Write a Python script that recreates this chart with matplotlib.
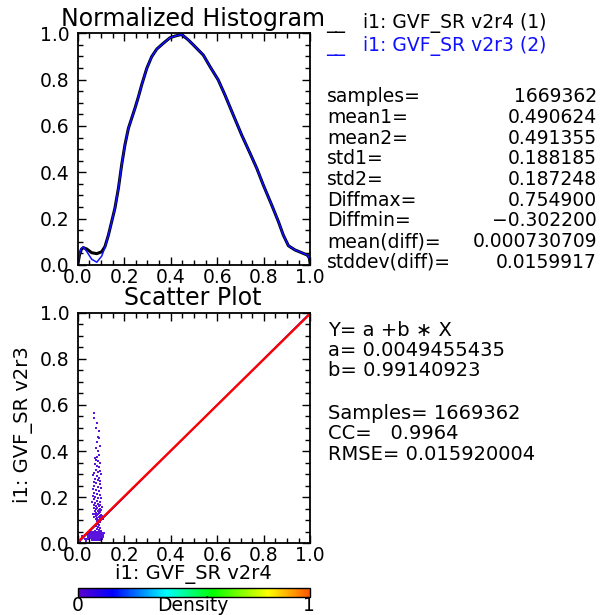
import matplotlib
matplotlib.use("Agg")
import matplotlib.pyplot as plt
from matplotlib.colors import LinearSegmentedColormap
from matplotlib.cm import ScalarMappable
from matplotlib.ticker import MultipleLocator, FormatStrFormatter

W, H = 604, 615

# Normalized histogram curves (v2r4 black, v2r3 blue)
hist_x = [0.0, 0.008, 0.016, 0.024, 0.039, 0.060, 0.082, 0.103, 0.117, 0.132, 0.146,
          0.160, 0.175, 0.189, 0.203, 0.218, 0.232, 0.246, 0.261, 0.275, 0.297,
          0.318, 0.340, 0.368, 0.397, 0.418, 0.447, 0.476, 0.501, 0.540, 0.569,
          0.604, 0.633, 0.669, 0.705, 0.741, 0.770, 0.798, 0.834, 0.863, 0.884,
          0.906, 0.934, 0.970, 0.987, 0.996, 1.0]
hist1 = [0.0, 0.045, 0.068, 0.075, 0.069, 0.053, 0.049, 0.057, 0.079, 0.129, 0.187,
         0.245, 0.331, 0.432, 0.518, 0.590, 0.633, 0.676, 0.726, 0.777, 0.849,
         0.899, 0.932, 0.957, 0.981, 0.988, 0.995, 0.971, 0.946, 0.906, 0.856,
         0.799, 0.734, 0.647, 0.561, 0.482, 0.417, 0.345, 0.259, 0.187, 0.129,
         0.083, 0.065, 0.050, 0.043, 0.030, 0.0]
hist2 = [0.0, 0.050, 0.072, 0.078, 0.058, 0.025, 0.012, 0.038, 0.075, 0.129, 0.187,
         0.245, 0.331, 0.432, 0.518, 0.590, 0.633, 0.676, 0.726, 0.777, 0.849,
         0.899, 0.932, 0.957, 0.981, 0.988, 0.995, 0.971, 0.946, 0.906, 0.856,
         0.799, 0.734, 0.647, 0.561, 0.482, 0.417, 0.345, 0.259, 0.187, 0.129,
         0.083, 0.065, 0.050, 0.043, 0.030, 0.0]

legend_labels = ["i1: GVF_SR v2r4 (1)", "i1: GVF_SR v2r3 (2)"]
stat_names = ["samples=", "mean1=", "mean2=", "std1=", "std2=", "Diffmax=",
              "Diffmin=", "mean(diff)=", "stddev(diff)="]
stat_values = ["1669362", "0.490624", "0.491355", "0.188185", "0.187248",
               "0.754900", "\u22120.302200", "0.000730709", "0.0159917"]

# Regression summary
fit_a = 0.0049455435
fit_b = 0.99140923
n_samples = 1669362
cc = 0.9964
rmse = 0.015920004

# Scatter samples (v2r4 on x, v2r3 on y)
sc_x = [0.070, 0.072, 0.085, 0.080, 0.090, 0.088, 0.092, 0.083, 0.095, 0.078, 0.087,
        0.091, 0.084, 0.075, 0.080, 0.088, 0.096, 0.073, 0.083, 0.090, 0.078, 0.094,
        0.086, 0.070, 0.099,
        0.065, 0.082, 0.092, 0.075, 0.088, 0.098, 0.068, 0.080, 0.094, 0.072, 0.086,
        0.100, 0.064, 0.078, 0.090, 0.070, 0.084, 0.096, 0.066, 0.076, 0.088, 0.100,
        0.070, 0.082, 0.094, 0.062, 0.074, 0.086, 0.098, 0.068, 0.080, 0.092, 0.104,
        0.072, 0.084, 0.096, 0.078, 0.090, 0.102, 0.074, 0.086, 0.098, 0.080, 0.092,
        0.076, 0.088, 0.100, 0.082, 0.094, 0.078, 0.090, 0.102, 0.084, 0.096, 0.080,
        0.092, 0.086, 0.098, 0.082, 0.094, 0.088, 0.070, 0.106, 0.066, 0.108,
        0.084, 0.092, 0.078, 0.088, 0.096, 0.082, 0.090, 0.074, 0.100,
        0.042, 0.050, 0.057, 0.065, 0.073, 0.081, 0.089, 0.097, 0.105,
        0.045, 0.053, 0.061, 0.069, 0.077, 0.085, 0.093, 0.101, 0.109,
        0.043, 0.051, 0.059, 0.067, 0.075, 0.083, 0.091, 0.099, 0.107,
        0.047, 0.055, 0.063, 0.071, 0.079, 0.087, 0.095, 0.103, 0.111,
        0.049, 0.058, 0.066, 0.074, 0.082, 0.090, 0.098, 0.106,
        0.046, 0.054, 0.062, 0.070, 0.078, 0.086, 0.094, 0.102,
        0.048, 0.056, 0.064, 0.072, 0.080, 0.088, 0.096, 0.104,
        0.044, 0.052, 0.060, 0.068, 0.076, 0.084, 0.092, 0.100, 0.108,
        0.060, 0.068, 0.076, 0.084, 0.092, 0.100,
        0.005, 0.012, 0.020, 0.030, 0.035]
sc_y = [0.565, 0.545, 0.520, 0.500, 0.485, 0.460, 0.455, 0.440, 0.420, 0.415, 0.400,
        0.385, 0.375, 0.370, 0.360, 0.355, 0.350, 0.345, 0.335, 0.330, 0.320, 0.315,
        0.310, 0.305, 0.300,
        0.295, 0.290, 0.285, 0.280, 0.275, 0.270, 0.265, 0.260, 0.255, 0.250, 0.245,
        0.240, 0.235, 0.230, 0.225, 0.220, 0.215, 0.210, 0.205, 0.200, 0.198, 0.195,
        0.190, 0.185, 0.180, 0.178, 0.175, 0.170, 0.168, 0.165, 0.162, 0.160, 0.158,
        0.155, 0.152, 0.150, 0.147, 0.145, 0.143, 0.140, 0.138, 0.136, 0.133, 0.131,
        0.128, 0.126, 0.124, 0.122, 0.120, 0.117, 0.115, 0.113, 0.110, 0.108, 0.105,
        0.103, 0.100, 0.098, 0.095, 0.093, 0.090, 0.112, 0.118, 0.125, 0.105,
        0.085, 0.080, 0.075, 0.070, 0.066, 0.062, 0.058, 0.055, 0.054,
        0.020, 0.018, 0.021, 0.019, 0.017, 0.020, 0.018, 0.022, 0.019,
        0.028, 0.026, 0.029, 0.027, 0.025, 0.028, 0.026, 0.030, 0.027,
        0.035, 0.033, 0.036, 0.034, 0.032, 0.035, 0.037, 0.034, 0.036,
        0.042, 0.040, 0.043, 0.041, 0.044, 0.042, 0.040, 0.043, 0.045,
        0.048, 0.047, 0.049, 0.050, 0.047, 0.049, 0.048, 0.046,
        0.024, 0.023, 0.025, 0.022, 0.024, 0.023, 0.025, 0.024,
        0.031, 0.030, 0.032, 0.031, 0.029, 0.032, 0.030, 0.031,
        0.038, 0.039, 0.038, 0.040, 0.039, 0.038, 0.039, 0.040, 0.038,
        0.014, 0.015, 0.014, 0.015, 0.014, 0.016,
        0.004, 0.010, 0.030, 0.020, 0.012]

plt.rcParams["font.family"] = ["DejaVu Sans"]

fig = plt.figure(figsize=(W / 100, H / 100), dpi=100)


def fx(px):
    return px / W


def fy(py):
    return 1 - py / H


def style_axes(ax):
    ax.set_xlim(0, 1)
    ax.set_ylim(0, 1)
    ax.xaxis.set_major_locator(MultipleLocator(0.2))
    ax.yaxis.set_major_locator(MultipleLocator(0.2))
    ax.xaxis.set_minor_locator(MultipleLocator(0.05))
    ax.yaxis.set_minor_locator(MultipleLocator(0.05))
    ax.tick_params(which="both", direction="in", top=True, right=True,
                   width=1.0, color="black")
    ax.tick_params(which="major", length=6)
    ax.tick_params(which="minor", length=3.5)
    ax.tick_params(axis="x", labelsize=13.5, pad=2)
    ax.tick_params(axis="y", labelsize=13.5, pad=6)
    ax.xaxis.set_major_formatter(FormatStrFormatter("%.1f"))
    ax.yaxis.set_major_formatter(FormatStrFormatter("%.1f"))
    for s in ax.spines.values():
        s.set_linewidth(1.3)


TXT = 13.5

# Histogram panel
ax1 = fig.add_axes([fx(77.7), fy(265), 232.6 / W, 231.7 / H])
ax1.plot(hist_x, hist1, color="black", lw=2.2)
ax1.plot(hist_x, hist2, color="#1010ff", lw=1.1)
style_axes(ax1)
fig.text(fx(193), fy(26), "Normalized Histogram", fontsize=17,
         ha="center", va="baseline")

# Legend text
fig.text(fx(326), fy(23), "__   " + legend_labels[0], fontsize=TXT,
         ha="left", va="center", color="black")
fig.text(fx(326), fy(46), "__   " + legend_labels[1], fontsize=TXT,
         ha="left", va="center", color="#1010ff")

# Statistics block
for i, (name, val) in enumerate(zip(stat_names, stat_values)):
    y = 96.7 + 20.7 * i
    fig.text(fx(327), fy(y), name, fontsize=TXT, ha="left", va="center")
    fig.text(fx(597), fy(y), val, fontsize=TXT, ha="right", va="center")

# Scatter panel
ax2 = fig.add_axes([fx(77.7), fy(543.3), 232.6 / W, 230.6 / H])
ax2.scatter(sc_x, sc_y, s=4, marker="s", color="#5a14dc", linewidths=0)
line_x = [0.0, 1.0]
ax2.plot(line_x, line_x, color="blue", lw=1.0)
ax2.plot(line_x, [fit_a + fit_b * v for v in line_x], color="red", lw=1.7)
style_axes(ax2)
fig.text(fx(193), fy(305), "Scatter Plot", fontsize=17, ha="center", va="baseline")
fig.text(fx(193), fy(579), "i1: GVF_SR v2r4", fontsize=14, ha="center",
         va="baseline")
fig.text(fx(23), fy(425), "i1: GVF_SR v2r3", fontsize=14, ha="center",
         va="center", rotation=90)

# Fit summary
fit_lines = [
    (330.7, "Y= a +b \u2217 X"),
    (350.0, f"a= {fit_a:.10f}"),
    (370.0, f"b= {fit_b:.8f}"),
    (413.3, f"Samples= {n_samples}"),
    (433.3, f"CC=   {cc:.4f}"),
    (454.0, f"RMSE= {rmse:.9f}"),
]
for y, s in fit_lines:
    fig.text(fx(328), fy(y), s, fontsize=14, ha="left", va="center")

# Density colour bar
density_cmap = LinearSegmentedColormap.from_list(
    "density",
    [(0.0, (0.36, 0.0, 0.80)), (0.15, (0.0, 0.0, 1.0)), (0.38, (0.0, 1.0, 1.0)),
     (0.58, (0.0, 1.0, 0.0)), (0.82, (1.0, 1.0, 0.0)), (1.0, (1.0, 0.33, 0.0))])
cax = fig.add_axes([fx(77.7), fy(596.5), 232.6 / W, 8.5 / H])
cb = fig.colorbar(ScalarMappable(cmap=density_cmap, norm=plt.Normalize(0, 1)),
                  cax=cax, orientation="horizontal")
cb.set_ticks([])
cb.outline.set_linewidth(1.0)
fig.text(fx(78), fy(611), "0", fontsize=TXT, ha="center", va="baseline")
fig.text(fx(193), fy(611), "Density", fontsize=TXT, ha="center", va="baseline")
fig.text(fx(309), fy(611), "1", fontsize=TXT, ha="center", va="baseline")

fig.savefig("out.png", dpi=100)
